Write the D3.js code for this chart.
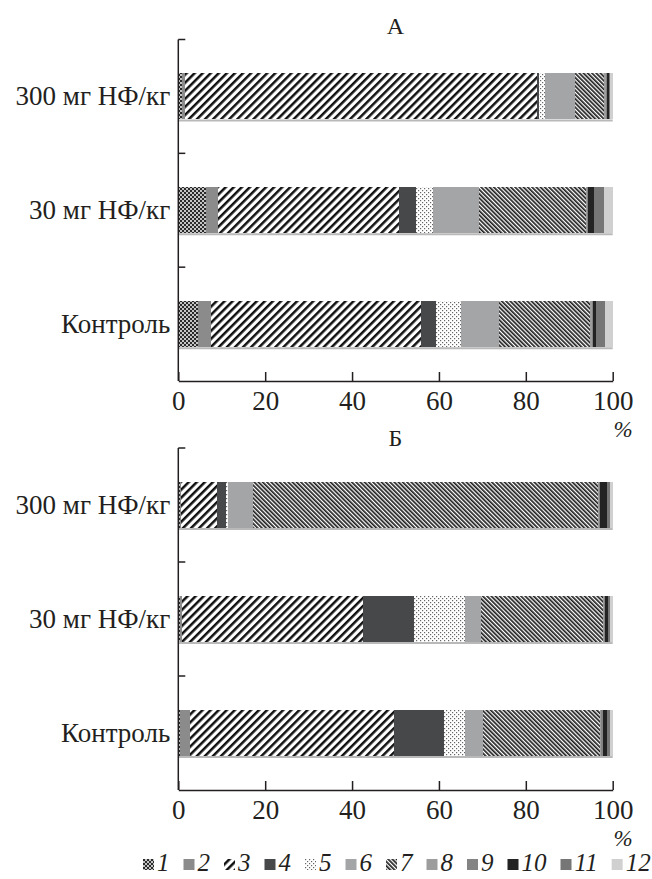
<!DOCTYPE html>
<html>
<head>
<meta charset="utf-8">
<script src="https://cdn.jsdelivr.net/npm/d3@7"></script>
<style>
  body { margin: 0; background: #fff; }
  svg { display: block; }
  svg text { font-family: "Liberation Serif", "DejaVu Serif", serif; }
</style>
</head>
<body>
<svg id="chart"></svg>
<script>
"use strict";

// groups (y categories) and fraction keys
var groups = ["300 мг НФ/кг", "30 мг НФ/кг", "Контроль"];
var seriesKeys = ["1", "2", "3", "4", "5", "6", "7", "8", "9", "10", "11", "12"];
var xTicks = [0, 20, 40, 60, 80, 100];

// panel А, % of total per fraction 1..12
var a300     = [0.8, 0.8, 80.9, 0.6, 1.3, 6.9, 6.75, 0.4, 0.3, 0.3, 0.4, 0.55];
var a30      = [6.4, 2.85, 41.6, 3.8, 4.05, 10.6, 24.5, 0.2, 0.2, 1.4, 2.3, 2.1];
var aControl = [4.6, 2.9, 48.3, 3.6, 5.75, 8.7, 21.0, 0.3, 0.3, 0.8, 1.9, 1.85];

// panel Б
var b300     = [0.4, 0.3, 8.2, 2.15, 0.5, 5.75, 79.3, 0.2, 0.2, 1.8, 0.6, 0.6];
var b30      = [0.4, 0.4, 41.7, 11.65, 11.9, 3.6, 28.2, 0.2, 0.2, 0.7, 0.5, 0.55];
var bControl = [0.4, 2.3, 47.0, 11.5, 4.8, 4.1, 27.0, 0.3, 0.3, 0.9, 0.7, 0.7];

var width = 652, height = 879;
var ink = "#231f20";

var fills = ["url(#p1)", "#8b8b8b", "url(#p3)", "#47484a", "url(#p5)", "#a4a5a7",
             "url(#p7)", "#9d9d9d", "#848484", "#232323", "#767676", "#d0d0d0"];

var x = d3.scaleLinear()
  .domain([0, 100])
  .range([178.3, 612.7]);

var svg = d3.select("#chart")
  .attr("width", width)
  .attr("height", height);

/***** patterns *****/
var defs = svg.append("defs");

// 1 : fine checker
var p1 = defs.append("pattern").attr("id", "p1")
  .attr("patternUnits", "userSpaceOnUse").attr("width", 4).attr("height", 4);
p1.append("rect").attr("width", 4).attr("height", 4).attr("fill", "#c4c4c4");
p1.append("rect").attr("width", 2).attr("height", 2).attr("fill", "#2b2b2b");
p1.append("rect").attr("x", 2).attr("y", 2).attr("width", 2).attr("height", 2).attr("fill", "#2b2b2b");

// 3 : wide "/" stripes
var p3 = defs.append("pattern").attr("id", "p3")
  .attr("patternUnits", "userSpaceOnUse").attr("width", 5.7).attr("height", 5.7)
  .attr("patternTransform", "rotate(45)");
p3.append("rect").attr("width", 5.7).attr("height", 5.7).attr("fill", "#fff");
p3.append("rect").attr("width", 2.5).attr("height", 5.7).attr("fill", "#111");

// 5 : sparse dots
var p5 = defs.append("pattern").attr("id", "p5")
  .attr("patternUnits", "userSpaceOnUse").attr("width", 4).attr("height", 4);
p5.append("rect").attr("width", 4).attr("height", 4).attr("fill", "#fff");
p5.append("rect").attr("width", 1.2).attr("height", 1.2).attr("fill", "#666");
p5.append("rect").attr("x", 2).attr("y", 2).attr("width", 1.2).attr("height", 1.2).attr("fill", "#666");

// 7 : dense "\" stripes
var p7 = defs.append("pattern").attr("id", "p7")
  .attr("patternUnits", "userSpaceOnUse").attr("width", 3).attr("height", 3)
  .attr("patternTransform", "rotate(-45)");
p7.append("rect").attr("width", 3).attr("height", 3).attr("fill", "#fff");
p7.append("rect").attr("width", 1.7).attr("height", 3).attr("fill", "#1e1e1e");

/***** panels *****/
var panels = [
  { title: "А", rows: [a300, a30, aControl], top: 39.5, bottom: 381, titleY: 34 },
  { title: "Б", rows: [b300, b30, bControl], top: 448, bottom: 790, titleY: 446 }
];

panels.forEach(function(p) { drawPanel(svg.append("g"), p); });

function drawPanel(g, p) {
  var table = groups.map(function(name, i) {
    var o = { group: name };
    seriesKeys.forEach(function(k, j) { o[k] = p.rows[i][j]; });
    return o;
  });
  var stacked = d3.stack().keys(seriesKeys)(table);

  var y = d3.scaleBand()
    .domain(groups)
    .range([p.top, p.bottom])
    .paddingInner(0.595)
    .paddingOuter(0.2975);

  // light shadow line under each bar
  g.selectAll(".shadow")
    .data(groups)
    .join("line")
    .attr("class", "shadow")
    .attr("x1", x(0)).attr("x2", x(100))
    .attr("y1", function(d) { return y(d) + y.bandwidth() + 1; })
    .attr("y2", function(d) { return y(d) + y.bandwidth() + 1; })
    .attr("stroke", "#b9b9b9")
    .attr("stroke-width", 2);

  g.selectAll(".layer")
    .data(stacked)
    .join("g")
    .attr("class", "layer")
    .attr("fill", function(d, i) { return fills[i]; })
    .selectAll("rect")
    .data(function(d) { return d; })
    .join("rect")
    .attr("x", function(d) { return x(d[0]); })
    .attr("y", function(d) { return y(d.data.group); })
    .attr("width", function(d) { return Math.max(0, x(d[1]) - x(d[0])); })
    .attr("height", y.bandwidth())
    .style("shape-rendering", "crispEdges");

  // y axis: line + ticks at band boundaries
  g.append("line")
    .attr("x1", x(0)).attr("x2", x(0))
    .attr("y1", p.top).attr("y2", p.bottom)
    .attr("stroke", ink).attr("stroke-width", 1.5);
  g.selectAll(".ytick")
    .data(groups)
    .join("line")
    .attr("class", "ytick")
    .attr("x1", x(0)).attr("x2", x(0) + 7)
    .attr("y1", function(d) { return y(d) - y.step() * y.paddingOuter(); })
    .attr("y2", function(d) { return y(d) - y.step() * y.paddingOuter(); })
    .attr("stroke", ink).attr("stroke-width", 1.5);

  // group labels
  g.append("g")
    .attr("transform", "translate(" + x(0) + ",0)")
    .call(d3.axisLeft(y).tickSize(0).tickPadding(8))
    .call(function(a) { a.select(".domain").remove(); })
    .selectAll("text")
    .attr("fill", ink)
    .style("font-size", "27px");

  // x axis
  g.append("g")
    .attr("transform", "translate(0," + p.bottom + ")")
    .call(d3.axisBottom(x).tickValues(xTicks).tickSize(-9).tickSizeOuter(0).tickPadding(10))
    .call(function(a) {
      a.select(".domain").attr("stroke", ink).attr("stroke-width", 1.5);
      a.selectAll(".tick line").attr("stroke", ink).attr("stroke-width", 1.5);
      a.selectAll("text").attr("fill", ink).style("font-size", "27px");
    });

  // title
  g.append("text")
    .attr("x", (x(0) + x(100)) / 2)
    .attr("y", p.titleY)
    .attr("text-anchor", "middle")
    .style("font-size", "24px")
    .attr("fill", ink)
    .text(p.title);

  // unit
  g.append("text")
    .attr("x", 623)
    .attr("y", p.bottom + 56)
    .attr("text-anchor", "middle")
    .style("font-style", "italic")
    .style("font-size", "23px")
    .attr("fill", ink)
    .text("%");
}

/***** legend *****/
var legend = svg.append("g").attr("transform", "translate(143,871)");
var cursor = 0;
seriesKeys.forEach(function(k, i) {
  var item = legend.append("g").attr("transform", "translate(" + cursor + ",0)");
  item.append("rect")
    .attr("x", 0).attr("y", -12)
    .attr("width", 11).attr("height", 11)
    .attr("fill", fills[i]);
  var t = item.append("text")
    .attr("x", 14)
    .style("font-style", "italic")
    .style("font-size", "25px")
    .attr("fill", ink)
    .text(k);
  cursor += 14 + t.node().getComputedTextLength() + 14;
});
</script>
</body>
</html>
